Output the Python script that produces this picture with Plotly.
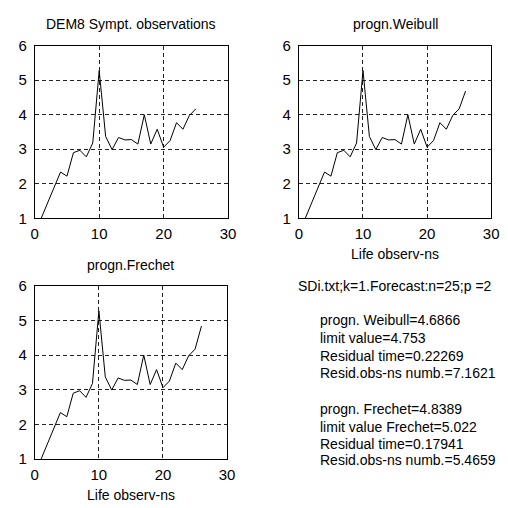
import plotly.graph_objects as go

# ---- data ----
obs_x = list(range(1, 26))
obs_y = [1.0, 1.45, 1.88, 2.34, 2.22, 2.90, 2.97, 2.78, 3.18, 5.28,
         3.37, 2.99, 3.34, 3.27, 3.28, 3.15, 4.00, 3.15, 3.58, 3.06,
         3.25, 3.77, 3.58, 3.98, 4.17]
forecast_x = 26
weibull_forecast = 4.6866
frechet_forecast = 4.8389

x_ticks = [0, 10, 20, 30]
y_ticks = [1, 2, 3, 4, 5, 6]

titles = ["DEM8 Sympt. observations", "progn.Weibull", "progn.Frechet"]
x_label = "Life observ-ns"
header = "SDi.txt;k=1.Forecast:n=25;p =2"
weibull_lines = ["progn. Weibull=4.6866", "limit value=4.753",
                 "Residual time=0.22269", "Resid.obs-ns numb.=7.1621"]
frechet_lines = ["progn. Frechet=4.8389", "limit value Frechet=5.022",
                 "Residual time=0.17941", "Resid.obs-ns numb.=5.4659"]

W = H = 508
FONT = "Liberation Sans, Arial, sans-serif"

series = [
    (obs_x, obs_y),
    (obs_x + [forecast_x], obs_y + [weibull_forecast]),
    (obs_x + [forecast_x], obs_y + [frechet_forecast]),
]
# axes boxes in pixels: (left, right, top, bottom)
boxes = [(31.5, 229.5, 38, 216.5), (302, 499, 38, 216.5), (31.5, 228.5, 286.5, 465.5)]

fig = go.Figure()
annotations = []

def px_x(p):
    return p / W

def px_y(p):
    return 1 - p / H

for i, ((xs, ys), (l, r, t, b)) in enumerate(zip(series, boxes)):
    sfx = "" if i == 0 else str(i + 1)
    fig.add_trace(go.Scatter(x=xs, y=ys, mode="lines",
                             line=dict(color="black", width=1),
                             xaxis="x" + sfx, yaxis="y" + sfx,
                             showlegend=False, hoverinfo="skip"))
    common = dict(showline=True, linecolor="black", linewidth=1, mirror=True,
                  showgrid=True, gridcolor="#222222", griddash="4px,3px", gridwidth=1,
                  zeroline=False, ticks="", tickfont=dict(family=FONT, size=15, color="black"),
                  fixedrange=True)
    fig.layout["xaxis" + sfx] = dict(common, domain=[px_x(l), px_x(r)], range=[0, 30],
                                     tickvals=x_ticks, anchor="y" + sfx, ticklabelstandoff=2)
    fig.layout["yaxis" + sfx] = dict(common, domain=[px_y(b), px_y(t)], range=[1, 6],
                                     tickvals=y_ticks, anchor="x" + sfx, ticklabelstandoff=4)
    annotations.append(dict(text=titles[i], x=px_x((l + r) / 2), y=px_y(t - 22),
                            xref="paper", yref="paper", showarrow=False,
                            xanchor="center", yanchor="middle",
                            font=dict(family=FONT, size=14, color="black")))
    if i > 0:
        annotations.append(dict(text=x_label, x=px_x((l + r) / 2), y=px_y(b + 37),
                                xref="paper", yref="paper", showarrow=False,
                                xanchor="center", yanchor="middle",
                                font=dict(family=FONT, size=14, color="black")))

annotations.append(dict(text=header, x=px_x(400), y=px_y(287), xref="paper", yref="paper",
                        showarrow=False, xanchor="center", yanchor="middle",
                        font=dict(family=FONT, size=14, color="black")))
w_ys = [322, 340, 359, 377]
f_ys = [414, 432, 450, 467]
for txt, yy in list(zip(weibull_lines, w_ys)) + list(zip(frechet_lines, f_ys)):
    annotations.append(dict(text=txt, x=px_x(322), y=px_y(yy), xref="paper", yref="paper",
                            showarrow=False, xanchor="left", yanchor="middle",
                            font=dict(family=FONT, size=14, color="black")))

fig.update_layout(width=W, height=H, margin=dict(l=0, r=0, t=0, b=0),
                  paper_bgcolor="white", plot_bgcolor="white",
                  annotations=annotations, showlegend=False)

fig.write_html("out.html")
